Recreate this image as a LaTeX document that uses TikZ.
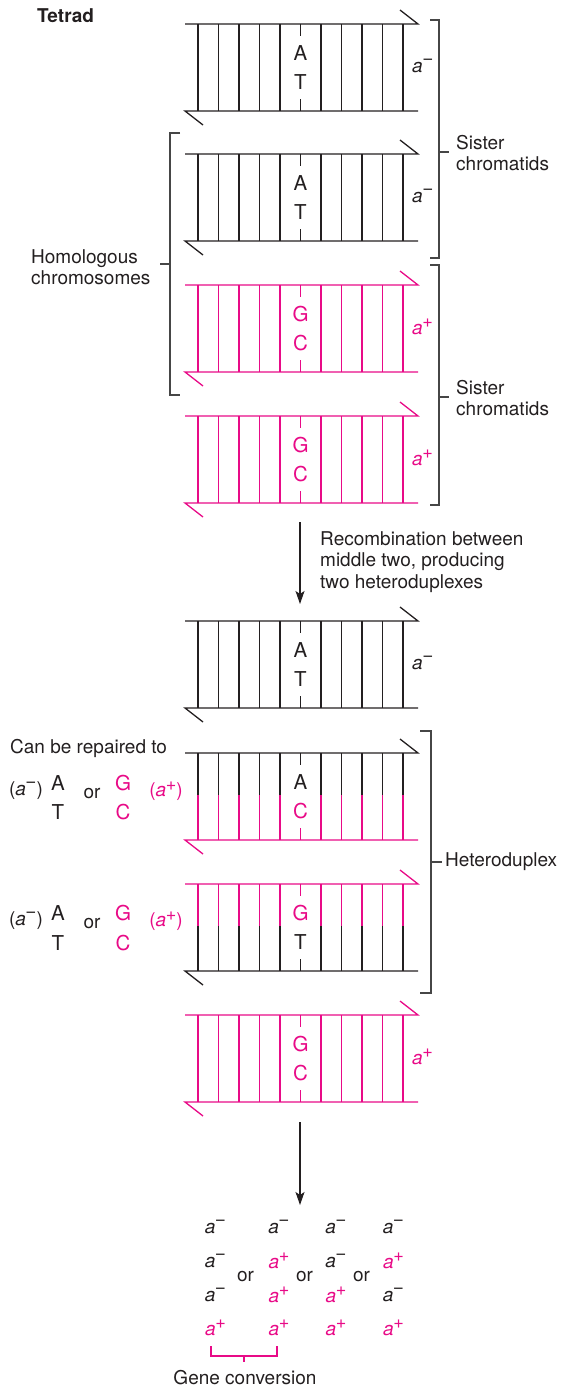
\documentclass[tikz,border=0pt]{standalone}
\usepackage{fontspec}
\setmainfont{TeX Gyre Heros}
\usepackage{tikz}
\usetikzlibrary{positioning, arrows.meta}

\definecolor{ink}{RGB}{35,31,32}
\definecolor{dnapink}{RGB}{232,10,135}
\definecolor{brackgray}{RGB}{70,70,70}

\newcommand{\aminus}{\textit{a}\kern-0.5pt\raisebox{0.85ex}{\textit{−}}}
\newcommand{\aplus}{\textit{a}\kern-0.5pt\raisebox{0.65ex}{\scalebox{0.95}{\textit{+}}}}

% one double helix drawn as a ladder; #1 top y, #2 top strand colour,
% #3 bottom strand colour, #4/#5 the base pair, #6 node name
\newcommand{\duplex}[6]{%
  \begin{scope}[shift={(0,#1)}]
    \draw[strand,#2] (185,0) -- (418,0) -- (400,-14);
    \draw[strand,#3] (418,87) -- (185,87) -- (203,101);
    \foreach \i in {0,1,2,3,4,6,7,8,9,10} {
      \draw[rung,#2] (198+20.5*\i,0) -- (198+20.5*\i,42);
      \draw[rung,#3] (198+20.5*\i,42) -- (198+20.5*\i,87);
    }
    \draw[rung,#2] (300.5,0) -- (300.5,12);
    \draw[rung,#3] (300.5,75) -- (300.5,87);
    \node[basepair,text=#2] (#6top) at (300.5,29.5) {#4};
    \node[basepair,text=#3] (#6bot) at (300.5,58.5) {#5};
  \end{scope}}

\tikzset{
  strand/.style={line width=1.3pt},
  rung/.style={line width=1.1pt},
  bracket/.style={brackgray, line width=1.1pt},
  basepair/.style={font=\fontsize{20.5}{22}\selectfont, inner sep=0pt},
  lbl/.style={font=\fontsize{19}{21.5}\selectfont, text=ink, inner sep=0pt},
  flow/.style={ink, line width=1.1pt, -{Stealth[length=13pt,width=9pt,inset=3pt]}}
}

\begin{document}
\begin{tikzpicture}[x=1pt,y=-1pt]
\useasboundingbox (0,0) rectangle (560,1387);

% tetrad
\node[lbl, anchor=west, font=\fontsize{19}{21.5}\selectfont\bfseries] (tetrad) at (37,16) {Tetrad};
\duplex{24}{ink}{ink}{A}{T}{chromA}
\duplex{154}{ink}{ink}{A}{T}{chromB}
\duplex{285}{dnapink}{dnapink}{G}{C}{chromC}
\duplex{416}{dnapink}{dnapink}{G}{C}{chromD}

\node[lbl, anchor=west] (alleleA) at (412,66) {\aminus};
\node[lbl, anchor=west] (alleleB) at (412,196) {\aminus};
\node[lbl, anchor=west, text=dnapink] (alleleC) at (412,327) {\aplus};
\node[lbl, anchor=west, text=dnapink] (alleleD) at (412,458) {\aplus};

% brackets round the tetrad
\draw[bracket] (430,20) -- (439,20) -- (439,258) -- (430,258);
\draw[bracket] (439,152) -- (449,152);
\draw[bracket] (430,265) -- (439,265) -- (439,505) -- (430,505);
\draw[bracket] (439,397) -- (449,397);
\draw[bracket] (180,133) -- (170,133) -- (170,395) -- (180,395);
\draw[bracket] (170,264) -- (160,264);

\node[lbl, anchor=west, align=left] (sisterA) at (456,153) {Sister\\chromatids};
\node[lbl, anchor=west, align=left] (sisterB) at (456,398) {Sister\\chromatids};
\node[lbl, anchor=west, align=left] (homologs) at (31,267) {Homologous\\chromosomes};

% recombination step
\coordinate (recombTop) at (300,522);
\coordinate (recombEnd) at (300,604);
\draw[flow] (recombTop) -- (recombEnd);
\node[lbl, anchor=west, align=left] (recombText) at (320,562) {Recombination between\\middle two, producing\\two heteroduplexes};

\duplex{621}{ink}{ink}{A}{T}{chromE}
\duplex{753}{ink}{dnapink}{A}{C}{hetA}
\duplex{884}{dnapink}{ink}{G}{T}{hetB}
\duplex{1015}{dnapink}{dnapink}{G}{C}{chromF}

\node[lbl, anchor=west] (alleleE) at (412,663) {\aminus};
\node[lbl, anchor=west, text=dnapink] (alleleF) at (412,1057) {\aplus};

\draw[bracket] (420,731) -- (431,731) -- (431,993) -- (420,993);
\draw[bracket] (431,862) -- (442,862);
\node[lbl, anchor=west] (hetText) at (445,862) {Heteroduplex};

% possible repairs
\node[lbl, anchor=west] (repairText) at (10,748) {Can be repaired to};
\node[lbl] (repA1) at (26,791) {(\aminus)};
\node[basepair, text=ink] (repA2) at (58,783) {A};
\node[basepair, text=ink] (repA3) at (58,812) {T};
\node[lbl] (repA4) at (92,794) {or};
\node[basepair, text=dnapink] (repA5) at (123,783) {G};
\node[basepair, text=dnapink] (repA6) at (123,812) {C};
\node[lbl, text=dnapink] (repA7) at (166,791) {(\aplus)};

\node[lbl] (repB1) at (26,921) {(\aminus)};
\node[basepair, text=ink] (repB2) at (58,913) {A};
\node[basepair, text=ink] (repB3) at (58,943) {T};
\node[lbl] (repB4) at (92,924) {or};
\node[basepair, text=dnapink] (repB5) at (123,913) {G};
\node[basepair, text=dnapink] (repB6) at (123,943) {C};
\node[lbl, text=dnapink] (repB7) at (166,921) {(\aplus)};

% outcomes
\coordinate (repairTop) at (300,1122);
\coordinate (repairEnd) at (300,1205);
\draw[flow] (repairTop) -- (repairEnd);

\node[lbl] (outA1) at (215.5,1227) {\aminus};
\node[lbl] (outA2) at (215.5,1261) {\aminus};
\node[lbl] (outA3) at (215.5,1295) {\aminus};
\node[lbl, text=dnapink] (outA4) at (215.5,1328) {\aplus};

\node[lbl] (outB1) at (279,1227) {\aminus};
\node[lbl, text=dnapink] (outB2) at (279,1261) {\aplus};
\node[lbl, text=dnapink] (outB3) at (279,1295) {\aplus};
\node[lbl, text=dnapink] (outB4) at (279,1328) {\aplus};

\node[lbl] (outC1) at (336,1227) {\aminus};
\node[lbl] (outC2) at (336,1261) {\aminus};
\node[lbl, text=dnapink] (outC3) at (336,1295) {\aplus};
\node[lbl, text=dnapink] (outC4) at (336,1328) {\aplus};

\node[lbl] (outD1) at (393.5,1227) {\aminus};
\node[lbl, text=dnapink] (outD2) at (393.5,1261) {\aplus};
\node[lbl] (outD3) at (393.5,1295) {\aminus};
\node[lbl, text=dnapink] (outD4) at (393.5,1328) {\aplus};

\node[lbl] (orA) at (245.5,1277) {or};
\node[lbl] (orB) at (304.5,1277) {or};
\node[lbl] (orC) at (361.5,1277) {or};

\draw[dnapink, line width=1.1pt] (211,1346) -- (211,1356) -- (277,1356) -- (277,1346);
\draw[dnapink, line width=1.1pt] (244,1356) -- (244,1362);
\node[lbl] (convText) at (245,1378) {Gene conversion};
\end{tikzpicture}
\end{document}
